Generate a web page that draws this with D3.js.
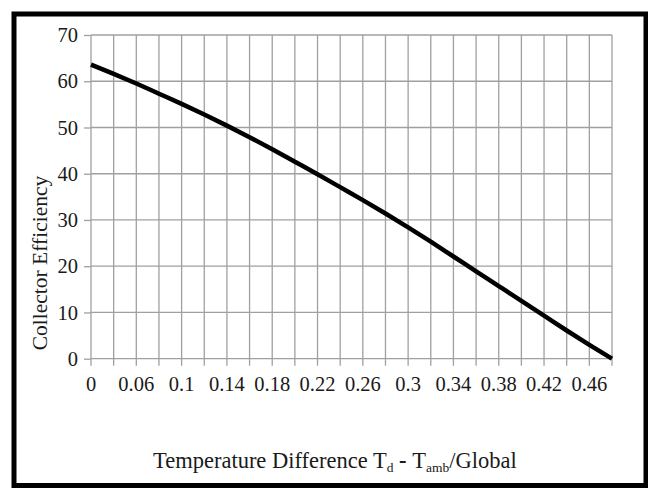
<!DOCTYPE html>
<html>
<head>
<meta charset="utf-8">
<title>Collector Efficiency</title>
<script src="https://d3js.org/d3.v7.min.js"></script>
<style>
  body { margin: 0; background: #fff; }
  svg text { font-family: "Liberation Serif", "Times New Roman", serif; fill: #1a1a1a; }
</style>
</head>
<body>
<div id="chart"></div>
<script>
// category labels along the x axis (every other one is shown)
var tempDiff = ["0", "0.03", "0.06", "0.08", "0.1", "0.12", "0.14", "0.16", "0.18", "0.2",
                "0.22", "0.24", "0.26", "0.28", "0.3", "0.32", "0.34", "0.36", "0.38", "0.4",
                "0.42", "0.44", "0.46", "0.48"];
// efficiency
var efficiency = [63.6, 61.6, 59.5, 57.3, 55.1, 52.8, 50.4, 47.9, 45.3, 42.6,
                  39.9, 37.1, 34.3, 31.4, 28.4, 25.3, 22.1, 18.9, 15.7, 12.5,
                  9.3, 6.1, 3.0, 0];
var yTicks = [0, 10, 20, 30, 40, 50, 60, 70];

var W = 648, H = 488;
var plotL = 91, plotR = 612, plotT = 35, plotB = 358.7;

var svg = d3.select("#chart").append("svg")
    .attr("width", W)
    .attr("height", H);

svg.append("rect")
    .attr("width", W).attr("height", H)
    .attr("fill", "#fff");

// outer frame
svg.append("rect")
    .attr("x", 14).attr("y", 14)
    .attr("width", 632).attr("height", 471.5)
    .attr("fill", "none")
    .attr("stroke", "#000")
    .attr("stroke-width", 5);

var x = d3.scalePoint()
    .domain(tempDiff)
    .range([plotL, plotR]);

var y = d3.scaleLinear()
    .domain([0, 70])
    .range([plotB, plotT]);

var grid = "#a0a0a0";

// y ticks (short marks left of the axis)
svg.append("g")
    .attr("transform", "translate(" + plotL + ",0)")
    .call(d3.axisLeft(y).tickValues(yTicks).tickSize(7).tickFormat(""))
    .call(function(g) {
      g.select(".domain").remove();
      g.selectAll("line").attr("stroke", grid).attr("stroke-width", 1.3);
    });

// horizontal gridlines
svg.append("g")
    .selectAll("line")
    .data(yTicks)
    .enter().append("line")
    .attr("x1", plotL).attr("x2", plotR)
    .attr("y1", function(d) { return y(d); })
    .attr("y2", function(d) { return y(d); })
    .attr("stroke", grid)
    .attr("stroke-width", 1.3);

// vertical gridlines + x ticks
svg.append("g")
    .selectAll("line")
    .data(tempDiff)
    .enter().append("line")
    .attr("x1", function(d) { return x(d); })
    .attr("x2", function(d) { return x(d); })
    .attr("y1", plotT).attr("y2", plotB + 7)
    .attr("stroke", grid)
    .attr("stroke-width", 1.3);

// y tick labels
svg.append("g")
    .selectAll("text")
    .data(yTicks)
    .enter().append("text")
    .attr("x", 78)
    .attr("y", function(d) { return y(d); })
    .attr("dy", "0.35em")
    .attr("text-anchor", "end")
    .attr("font-size", 20.5)
    .text(function(d) { return d; });

// x tick labels, every second category
svg.append("g")
    .selectAll("text")
    .data(tempDiff.filter(function(d, i) { return i % 2 === 0; }))
    .enter().append("text")
    .attr("x", function(d) { return x(d); })
    .attr("y", 391)
    .attr("text-anchor", "middle")
    .attr("font-size", 20.5)
    .text(function(d) { return d; });

// the curve
var line = d3.line()
    .curve(d3.curveMonotoneX)
    .x(function(d, i) { return x(tempDiff[i]); })
    .y(function(d) { return y(d); });

svg.append("path")
    .datum(efficiency)
    .attr("d", line)
    .attr("fill", "none")
    .attr("stroke", "#000")
    .attr("stroke-width", 4.5)
    .attr("stroke-linejoin", "round");

// axis titles
var xt = svg.append("text")
    .attr("x", 153)
    .attr("y", 468)
    .attr("font-size", 22.5);
xt.append("tspan").text("Temperature Difference T");
xt.append("tspan").attr("font-size", 13.5).attr("dy", 4).text("d");
xt.append("tspan").attr("dy", -4).attr("font-weight", "bold").text("  -  ");
xt.append("tspan").text("T");
xt.append("tspan").attr("font-size", 13.5).attr("dy", 4).text("amb");
xt.append("tspan").attr("dy", -4).text("/Global");

svg.append("text")
    .attr("transform", "translate(47,263) rotate(-90)")
    .attr("text-anchor", "middle")
    .attr("font-size", 21.5)
    .text("Collector Efficiency");
</script>
</body>
</html>
